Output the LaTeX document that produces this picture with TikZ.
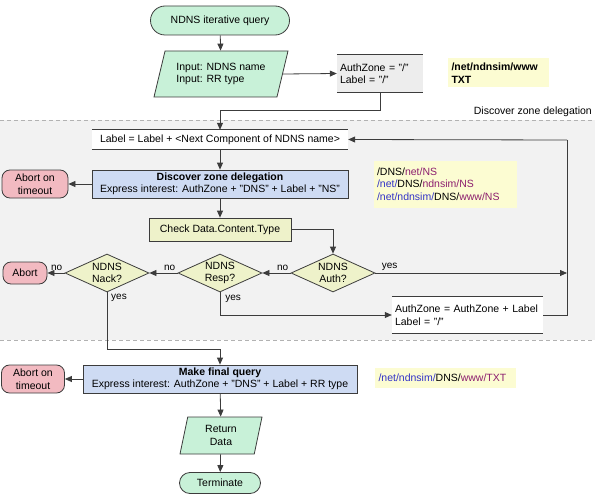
\documentclass[tikz,border=0pt]{standalone}
\usepackage{fontspec}
\setmainfont{Liberation Sans}
\usetikzlibrary{shapes.geometric,shapes.misc,arrows.meta}
\definecolor{cgreen}{RGB}{200,241,216}
\definecolor{cblue}{RGB}{206,219,243}
\definecolor{cpink}{RGB}{242,186,193}
\definecolor{cyg}{RGB}{238,242,202}
\definecolor{cnote}{RGB}{252,252,210}
\definecolor{cregion}{RGB}{242,242,242}
\definecolor{cline}{RGB}{60,60,60}
\definecolor{tblue}{RGB}{50,50,200}
\definecolor{tpurple}{RGB}{140,30,110}
\begin{document}
\begin{tikzpicture}[x=1pt,y=-1pt,font=\fontsize{10.5}{12.5}\selectfont,
  base/.style={draw=cline,line width=0.8pt,inner sep=2pt,align=center},
  term/.style={base,shape=rounded rectangle,fill=cgreen},
  iobox/.style={base,shape=trapezium,trapezium stretches body,fill=cgreen},
  procbox/.style={base,shape=rectangle,fill=cblue},
  abortbox/.style={base,shape=rectangle,rounded corners=8pt,fill=cpink},
  checkbox/.style={base,shape=rectangle,fill=cyg},
  decide/.style={base,shape=diamond,fill=cyg,inner sep=0pt,aspect=2.2},
  annbox/.style={shape=rectangle,inner sep=2pt,align=left},
  notebox/.style={shape=rectangle,fill=cnote,inner sep=3pt,align=left},
  arr/.style={draw=cline,line width=0.8pt,-{Triangle[length=7pt,width=6pt]}},
  conn/.style={draw=cline,line width=0.8pt},
  lbl/.style={inner sep=2pt,font=\fontsize{10}{12}\selectfont}
]
\useasboundingbox (0,0) rectangle (595,503);
% region
\fill[cregion] (0,120) rectangle (595,340);
\draw[gray!60,line width=0.8pt,dash pattern=on 4pt off 3pt] (0,120) -- (595,120);
\draw[gray!60,line width=0.8pt,dash pattern=on 4pt off 3pt] (0,340) -- (595,340);
\node[anchor=south east,inner sep=2pt] (regl) at (594,119) {Discover zone delegation};

% nodes
\node[term,minimum width=143pt,minimum height=29pt] (start) at (220,20.5) {NDNS iterative query};
\node[iobox,trapezium left angle=67,trapezium right angle=113,minimum width=134pt,minimum height=46pt,align=left] (input) at (221,74) {Input: NDNS name\\Input: RR type};
\node[annbox,fill=black!7,minimum width=86pt,minimum height=37pt,text width=80pt] (az1) at (380,73.5) {AuthZone = "/"\\Label = "/"};
\node[notebox,minimum width=101pt,minimum height=29pt,text width=94pt,font=\fontsize{10.5}{12.5}\selectfont\bfseries] (n1) at (498.5,73) {/net/ndnsim/www\\TXT};

\node[annbox,fill=white,minimum width=256pt,minimum height=19pt,align=center] (lab) at (220,139.5) {Label = Label + <Next Component of NDNS name>};
\node[procbox,minimum width=256pt,minimum height=28pt] (disc) at (220,184) {\textbf{Discover zone delegation}\\Express interest: AuthZone + "DNS" + Label + "NS"};
\node[abortbox,minimum width=66pt,minimum height=28pt] (ab1) at (35,184) {Abort on\\timeout};
\node[notebox,minimum width=143pt,minimum height=47pt,text width=136pt] (n2) at (445,184) {/DNS/\textcolor{tpurple}{net/NS}\\\textcolor{tblue}{/net/}DNS/\textcolor{tpurple}{ndnsim/NS}\\\textcolor{tblue}{/net/ndnsim/}DNS/\textcolor{tpurple}{www/NS}};
\node[checkbox,minimum width=142pt,minimum height=23pt] (chk) at (220,229.5) {Check Data.Content.Type};

\node[decide,minimum width=84pt,minimum height=38pt] (auth) at (333,273) {NDNS\\Auth?};
\node[decide,minimum width=84pt,minimum height=38pt] (resp) at (220,273) {NDNS\\Resp?};
\node[decide,minimum width=84pt,minimum height=38pt] (nack) at (107,273) {NDNS\\Nack?};
\node[abortbox,minimum width=44pt,minimum height=22pt] (ab2) at (25,273) {Abort};
\node[annbox,fill=white,minimum width=151pt,minimum height=36pt,text width=145pt] (az2) at (467.5,315) {AuthZone = AuthZone + Label\\Label = "/"};

\node[procbox,minimum width=274pt,minimum height=28pt] (final) at (220,379) {\textbf{Make final query}\\Express interest: AuthZone + "DNS" + Label + RR type};
\node[abortbox,minimum width=63pt,minimum height=28pt] (ab3) at (33,379) {Abort on\\timeout};
\node[notebox,minimum width=141pt,minimum height=20pt,text width=134pt] (n3) at (445.5,378) {\textcolor{tblue}{/net/ndnsim/}DNS/\textcolor{tpurple}{www/TXT}};

\node[iobox,trapezium left angle=72,trapezium right angle=108,minimum width=82pt,minimum height=37pt] (ret) at (221,435.5) {Return\\Data};
\node[term,minimum width=85pt,minimum height=21pt] (term) at (220,483) {Terminate};

% annotation box borders (top/bottom only)
\draw[conn] (az1.north west) -- (az1.north east) (az1.south west) -- (az1.south east);
\draw[conn] (lab.north west) -- (lab.north east) (lab.south west) -- (lab.south east);
\draw[conn] (az2.north west) -- (az2.north east) (az2.south west) -- (az2.south east);

% connectors
\coordinate (j1) at (220,110);
\coordinate (lt) at (567,140);
\coordinate (j2) at (220,349);
\draw[arr] (start) -- (input);
\draw[arr] (input.east) -- (az1.west);
\draw[arr] (az1.south) |- (j1) -- (lab.north);
\draw[arr] (lab) -- (disc);
\draw[arr] (disc) -- (ab1);
\draw[arr] (disc) -- (chk);
\draw[arr] (chk.east) -| (auth.north);
\draw[arr] (auth.west) -- (resp.east) node[lbl,pos=0,anchor=south east] {no};
\draw[arr] (resp.west) -- (nack.east) node[lbl,pos=0,anchor=south east] {no};
\draw[arr] (nack.west) -- (ab2.east) node[lbl,pos=0,anchor=south east] {no};
\draw[arr] (auth.east) -- (auth.east -| lt) node[lbl,pos=0,anchor=south west,xshift=4pt] {yes};
\draw[arr] (resp.south) |- (az2.west) node[lbl,pos=0,anchor=north west,xshift=3pt] {yes};
\draw[conn] (az2.east) -| (lt);
\draw[arr] (lt) -- (lab.east);
\draw[arr] (nack.south) |- (j2) -- (final.north);
\node[lbl,anchor=north west] (nyes) at (109,292) {yes};
\draw[arr] (final) -- (ab3);
\draw[arr] (final) -- (ret);
\draw[arr] (ret) -- (term);
\end{tikzpicture}
\end{document}
